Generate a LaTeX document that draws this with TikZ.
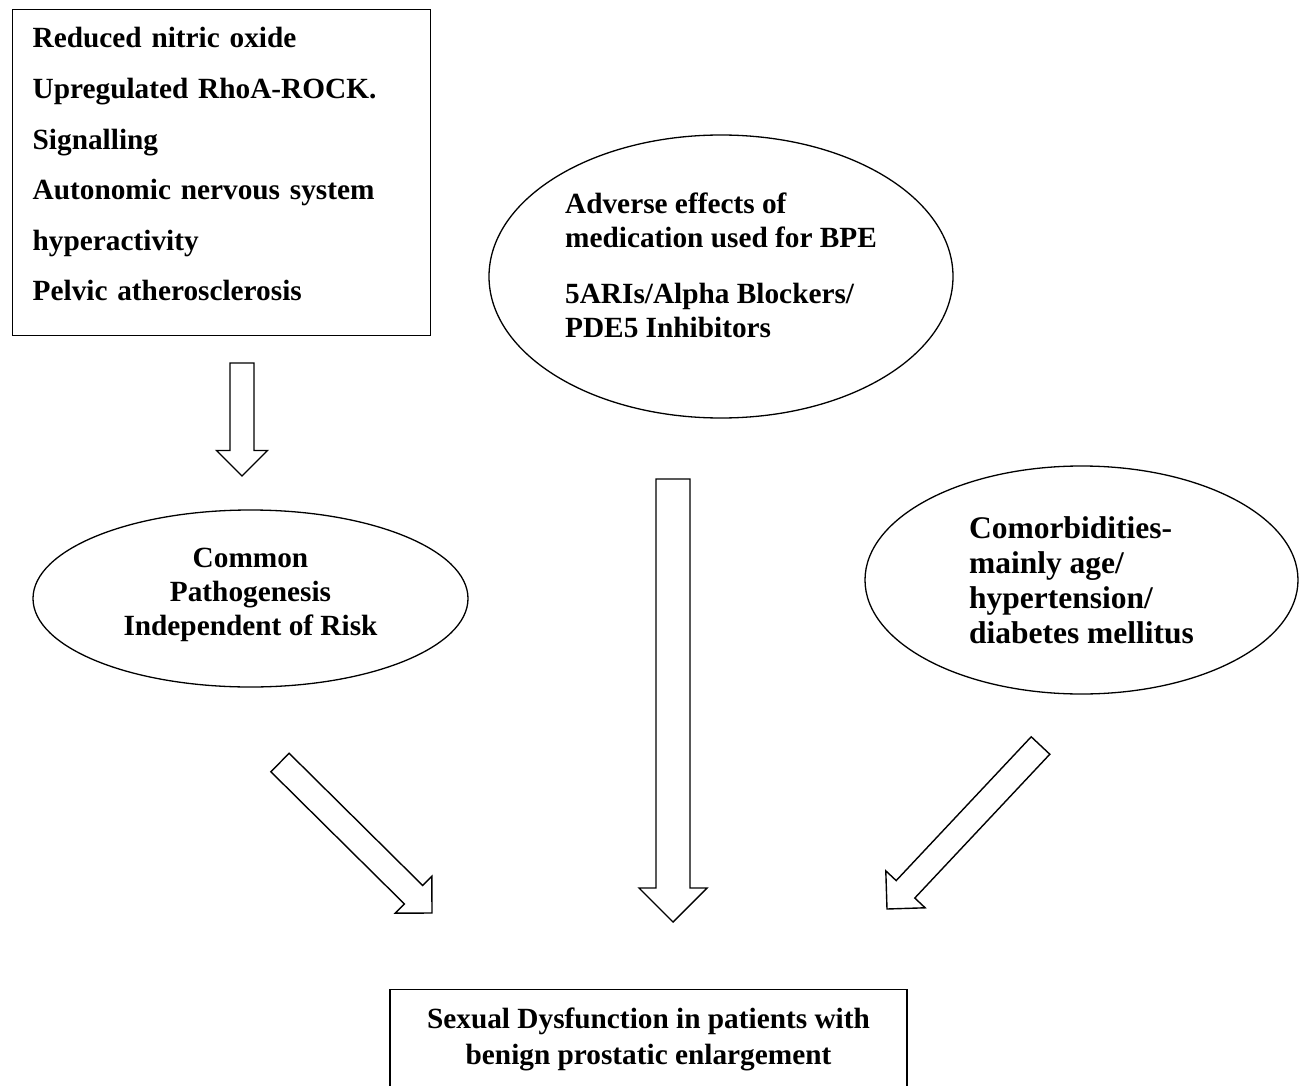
\documentclass[tikz,border=0pt]{standalone}
\usepackage{fontspec}
\setmainfont{Liberation Serif}
\usepackage{tikz}
\usetikzlibrary{shapes.geometric,calc}

% hollow block arrow: tail, tip, half shaft width, half head width
\newcommand{\hollowarrow}[4]{%
  \draw[blockarrow] ($(#1)!#3!90:(#2)$) -- ($($(#2)!#4!(#1)$)!#3!90:(#2)$)
    -- ($($(#2)!#4!(#1)$)!#4!90:(#2)$) -- (#2)
    -- ($($(#2)!#4!(#1)$)!#4!-90:(#2)$) -- ($($(#2)!#4!(#1)$)!#3!-90:(#2)$)
    -- ($(#1)!#3!-90:(#2)$) -- cycle;}

\begin{document}
\begin{tikzpicture}[line join=miter,x=1pt,y=-1pt,
    box/.style={draw,line width=1.4pt,rectangle,inner sep=0pt},
    oval/.style={draw,line width=1.3pt,ellipse,inner sep=0pt},
    blockarrow/.style={draw,line width=1.4pt,fill=white},
    txt/.style={font=\fontsize{29.3}{34}\selectfont\bfseries}]
        \useasboundingbox (0,0) rectangle (1306,1086);
        % causes
        \node[box,anchor=north west,minimum width=418pt,minimum height=326pt,inner xsep=20pt,text width=378pt,align=left,font=\fontsize{29.3}{50.6}\selectfont\bfseries] (causes) at (12,9) {Reduced nitric oxide\\Upregulated RhoA-ROCK.\\Signalling\\Autonomic nervous system\\hyperactivity\\Pelvic atherosclerosis\rule[-17pt]{0pt}{0pt}};
        \node[oval,txt,minimum width=464pt,minimum height=283pt,align=left] (meds) at (721,276.5) {Adverse effects of\\medication used for BPE\\[22pt]5ARIs/Alpha Blockers/\\PDE5 Inhibitors\rule[-22pt]{0pt}{0pt}};
        \node[oval,txt,minimum width=435pt,minimum height=177pt,align=center] (common) at (250.5,598.5) {Common\\Pathogenesis\\Independent of Risk\rule[-14.4pt]{0pt}{0pt}};
        \node[oval,minimum width=433pt,minimum height=228pt,align=left,font=\fontsize{31.5}{35}\selectfont\bfseries] (comorb) at (1081.5,580) {Comorbidities-\\mainly age/\\hypertension/\\diabetes mellitus};
        \node[box,txt,anchor=north,minimum width=517pt,minimum height=104pt,align=center,font=\fontsize{29.3}{36}\selectfont\bfseries] (sd) at (648.5,989) {Sexual Dysfunction in patients with\\benign prostatic enlargement\rule[-12pt]{0pt}{0pt}};
        % arrows
        \coordinate (a1tail) at (242,363);
        \coordinate (a1tip) at (242,476);
        \coordinate (a2tail) at (673,479);
        \coordinate (a2tip) at (673,922);
        \coordinate (a3tail) at (280,762.5);
        \coordinate (a3tip) at (432,913);
        \coordinate (a4tail) at (1040.5,745.5);
        \coordinate (a4tip) at (887,909);
        \hollowarrow{a1tail}{a1tip}{12pt}{25.5pt}
        \hollowarrow{a2tail}{a2tip}{17pt}{34pt}
        \hollowarrow{a3tail}{a3tip}{13pt}{26pt}
        \hollowarrow{a4tail}{a4tip}{12.75pt}{27pt}
    \end{tikzpicture}
\end{document}
